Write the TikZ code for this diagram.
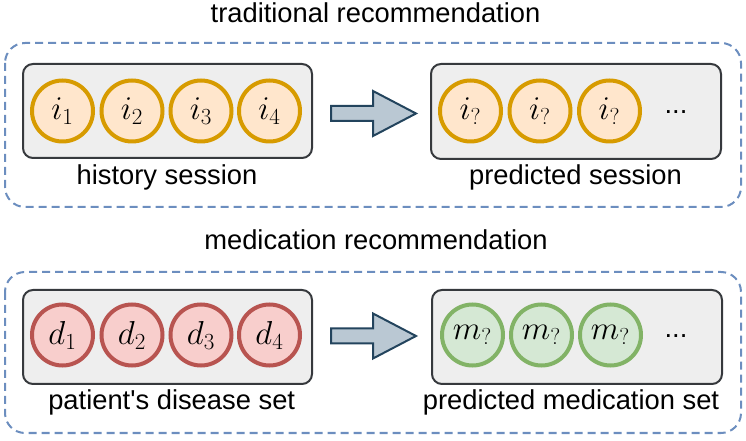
\documentclass[tikz,border=0pt]{standalone}
\usepackage{fontspec}
\setmainfont{Liberation Sans}
\usetikzlibrary{calc}

\definecolor{dashblue}{HTML}{6C8EBF}
\definecolor{boxgray}{HTML}{EEEEEE}
\definecolor{boxline}{HTML}{36393D}
\definecolor{itemfill}{HTML}{FFE6CC}
\definecolor{itemline}{HTML}{D79B00}
\definecolor{disfill}{HTML}{F8CECC}
\definecolor{disline}{HTML}{B85450}
\definecolor{medfill}{HTML}{D5E8D4}
\definecolor{medline}{HTML}{82B366}
\definecolor{arrfill}{HTML}{BAC8D3}
\definecolor{arrline}{HTML}{23445D}

\tikzset{
  groupbox/.style={draw=dashblue, line width=1.5pt, dash pattern=on 6pt off 3.75pt, rounded corners=15pt},
  setbox/.style={draw=boxline, fill=boxgray, line width=1.5pt, rounded corners=7.5pt, minimum width=216.75pt, minimum height=70.5pt, inner sep=0pt},
  ball/.style={circle, line width=3pt, minimum size=45.75pt, inner sep=0pt, font=\fontsize{25}{25}\selectfont},
  itemball/.style={ball, draw=itemline, fill=itemfill},
  disball/.style={ball, draw=disline, fill=disfill},
  medball/.style={ball, draw=medline, fill=medfill},
  caption/.style={font=\fontsize{20.5}{24}\selectfont, anchor=base, inner sep=0pt},
  bigarrow/.style={draw=arrline, fill=arrfill, line width=1.5pt, line join=miter}
}
% block arrow centred at (#1,#2)
\def\blockarrow(#1,#2){\draw[bigarrow] (#1,#2) ++(-42.5,-7.5) -- ++(42,0) -- ++(0,-15) -- ++(43,22.5) -- ++(-43,22.5) -- ++(0,-15) -- ++(-42,0) -- cycle;}

\begin{document}
\begin{tikzpicture}[x=0.75pt, y=-0.75pt]
		\useasboundingbox (0,0) rectangle (746,441);
		
		%%%%% traditional recommendation %%%%%
		\node[caption] (tradtitle) at (375.5,23) {traditional recommendation};
		\draw[groupbox] (5,43) rectangle (741,207);
		
		\node[setbox] (history) at (167.5,111) {};
		\foreach \n/\x in {1/62.5, 2/132, 3/201, 4/269.5}
			\node[itemball] (i\n) at (\x,111) {$i_\n$};
		\node[caption] (histlabel) at (167,185) {history session};
		
		\blockarrow(373.5,113.5)
		
		\node[setbox, minimum width=217.5pt, minimum height=71.25pt] (predsess) at (576,111.5) {};
		\foreach \n/\x in {1/470.5, 2/540, 3/609.5}
			\node[itemball] (ip\n) at (\x,111) {$i_?$};
		\node[caption] (idots) at (676,114) {...};
		\node[caption] (predlabel) at (575.5,185) {predicted session};
		
		%%%%% medication recommendation %%%%%
		\node[caption] (medtitle) at (376,249.5) {medication recommendation};
		\draw[groupbox] (5,272) rectangle (741,433);
		
		\node[setbox] (disease) at (167.5,337) {};
		\foreach \n/\x in {1/62.5, 2/132, 3/201, 4/269.5}
			\node[disball] (d\n) at (\x,335) {$d_\n$};
		\node[caption] (dislabel) at (171.7,410) {patient\textquotesingle s disease set};
		
		\blockarrow(373.5,336)
		
		\node[setbox, minimum width=217.5pt] (predmed) at (577,337) {};
		\foreach \n/\x in {1/472.5, 2/541.5, 3/610.5}
			\node[medball] (m\n) at (\x,335) {$m_?$};
		\node[caption] (mdots) at (676,338) {...};
		\node[caption] (medlabel) at (571,410) {predicted medication set};
		
	\end{tikzpicture}
\end{document}
